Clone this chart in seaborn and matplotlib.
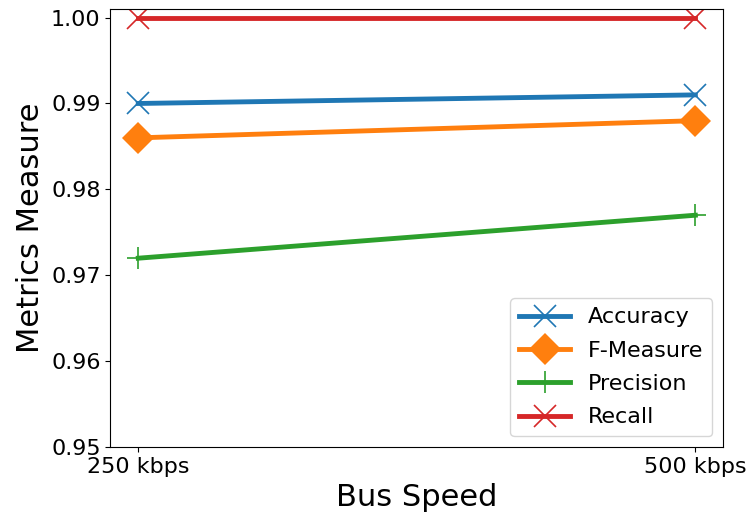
import matplotlib
matplotlib.use("Agg")
import matplotlib.pyplot as plt
import seaborn as sns
import pandas as pd

speeds = ["250 kbps", "500 kbps"]
accuracy = [0.990, 0.991]
f_measure = [0.986, 0.988]
precision = [0.972, 0.977]
recall = [1.000, 1.000]

series = {
    "Accuracy": (accuracy, "x"),
    "F-Measure": (f_measure, "D"),
    "Precision": (precision, "+"),
    "Recall": (recall, "x"),
}
palette = sns.color_palette("tab10")

fig, ax = plt.subplots(figsize=(7.51, 5.25), dpi=100)
for i, (name, (vals, mk)) in enumerate(series.items()):
    df = pd.DataFrame({"speed": speeds, "value": vals})
    sns.lineplot(data=df, x="speed", y="value", ax=ax, label=name,
                 color=palette[i], marker=mk, markersize=16.5,
                 linewidth=3.5, markeredgecolor=palette[i],
                 markeredgewidth=1.2 if mk != "D" else 0)

ax.set_ylim(0.95, 1.001)
ax.set_yticks([0.95, 0.96, 0.97, 0.98, 0.99, 1.00])
ax.set_yticklabels([f"{v:.2f}" for v in [0.95, 0.96, 0.97, 0.98, 0.99, 1.00]])
ax.set_xlabel("Bus Speed", fontsize=22)
ax.set_ylabel("Metrics Measure", fontsize=22)
ax.tick_params(labelsize=16)
ax.legend(loc="lower right", fontsize=16, handlelength=2.3, labelspacing=0.6)
fig.subplots_adjust(left=0.147, right=0.963, top=0.983, bottom=0.148)
fig.savefig("out.png", dpi=100)
